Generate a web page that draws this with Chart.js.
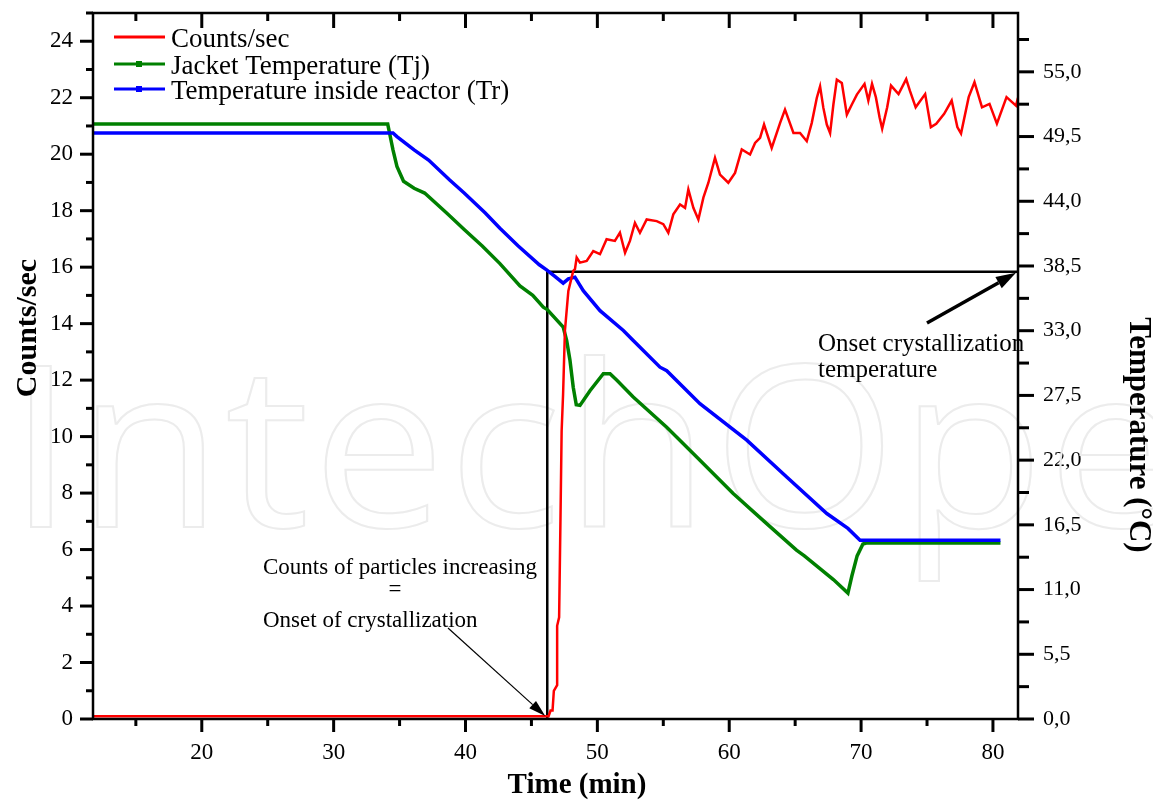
<!DOCTYPE html>
<html lang="en">
<head>
  <meta charset="UTF-8" />
  <title>Counts/sec and temperatures vs time</title>
  <style>
    html, body {
      margin: 0;
      padding: 0;
      background: #fff;
    }
    #grafico {
      display: block;
    }
  </style>
</head>
<body>
  <canvas id="grafico" width="1153" height="801"></canvas>

  <script src="https://cdn.jsdelivr.net/npm/chart.js"></script>
  <script>
    // --- data ---
    const countsTime = [11.75, 46.3, 46.45, 46.6, 46.7, 46.95, 46.95, 47.1, 47.2, 47.29, 47.4, 47.54, 47.8, 48.17,
      48.3, 48.43, 48.68, 49.19, 49.69, 50.2, 50.7, 51.33, 51.71, 52.1, 52.47, 52.85, 53.23, 53.74, 54.5,
      55.0, 55.38, 55.76, 56.27, 56.65, 56.9, 57.28, 57.66, 58.04, 58.42, 58.92, 59.3, 59.93, 60.44, 60.95,
      61.58, 61.96, 62.34, 62.64, 63.22, 63.86, 64.23, 64.87, 65.37, 65.88, 66.26, 66.64, 66.89, 67.14,
      67.4, 67.65, 67.9, 68.16, 68.54, 68.92, 69.3, 69.68, 70.26, 70.55, 70.83,
      71.12, 71.4, 71.6, 71.98, 72.27, 72.84, 73.42, 73.7, 74.14, 74.86, 75.29, 75.7, 76.3, 76.87, 77.3,
      77.58, 78.16, 78.6, 79.17, 79.74, 80.3, 81.03, 81.75, 81.9];
    const countsValues = [0.1, 0.1, 0.3, 0.3, 1.0, 1.2, 3.3, 3.6, 7.0, 10.2, 11.5, 13.75, 15.16, 15.87,
      15.93, 16.34, 16.16, 16.22, 16.57, 16.46, 16.99, 16.93, 17.22, 16.51, 16.93, 17.57, 17.22, 17.69, 17.63,
      17.52, 17.22, 17.87, 18.22, 18.1, 18.75, 18.1, 17.69, 18.46, 18.99, 19.87, 19.28, 18.99, 19.34, 20.17,
      19.99, 20.4, 20.58, 21.05, 20.22, 21.11, 21.58, 20.75, 20.75, 20.46, 21.11, 21.99, 22.4, 21.64,
      21.05, 20.75, 21.76, 22.64, 22.52, 21.4, 21.76, 22.11, 22.49, 21.9, 22.49,
      22.02, 21.31, 20.9, 21.66, 22.43, 22.13, 22.66, 22.25, 21.66, 22.13, 20.96, 21.08, 21.43, 21.9, 20.96,
      20.73, 22.02, 22.55, 21.66, 21.78, 21.08, 22.02, 21.72, 22.0];

    const jacketTime = [11.75, 34.1, 34.24, 34.5, 34.8, 35.3, 36.1, 36.9, 38.57, 39.9, 41.27, 42.61, 44.13,
      45.1, 45.9, 46.2, 47.41, 47.67, 47.92, 48.17, 48.4, 48.68, 49.44, 50.45, 50.96, 51.46, 52.72, 55.26,
      57.78, 60.3, 62.84, 65.1, 65.7, 67.9, 69.0, 69.3, 69.7, 70.14, 70.4, 80.57];
    const jacketTemp = [50.56, 50.56, 49.8, 48.36, 46.96, 45.7, 45.1, 44.7, 43.0, 41.6, 40.2, 38.7, 36.8,
      36.0, 35.0, 34.8, 33.3, 32.17, 30.5, 28.2, 26.7, 26.65, 27.9, 29.35, 29.35, 28.8, 27.36, 24.8,
      22.0, 19.16, 16.6, 14.35, 13.86, 11.85, 10.7, 12.15, 13.86, 14.87, 14.95, 14.95];

    const reactorTime = [11.75, 34.5, 34.8, 36.1, 37.2, 38.8, 39.9, 41.5, 42.61, 44.0, 45.6, 46.15, 46.8,
      47.41, 47.8, 48.3, 48.93, 50.2, 51.97, 52.72, 54.75, 55.26, 57.78, 61.33, 64.36, 67.4, 69.0, 69.92, 80.57];
    const reactorTemp = [49.8, 49.8, 49.5, 48.36, 47.5, 45.8, 44.7, 43.0, 41.7, 40.2, 38.6, 38.17, 37.6,
      37.04, 37.4, 37.55, 36.4, 34.7, 33.02, 32.17, 29.9, 29.6, 26.8, 23.7, 20.57, 17.46, 16.2, 15.2, 15.2];

    const onsetTime = 46.2;
    const onsetTemp = 38.0;

    const timeTicks = [20, 30, 40, 50, 60, 70, 80];
    const countTicks = [0, 2, 4, 6, 8, 10, 12, 14, 16, 18, 20, 22, 24];
    const tempTicks = [0, 5.5, 11, 16.5, 22, 27.5, 33, 38.5, 44, 49.5, 55];

    const SERIF = '"Liberation Serif", "Times New Roman", serif';

    const toPoints = (xs, ys) => xs.map((x, i) => ({ x: x, y: ys[i] }));

    function flecha(ctx, x1, y1, x2, y2, largo, ancho, grosor) {
      const ang = Math.atan2(y2 - y1, x2 - x1);
      const bx = x2 - largo * Math.cos(ang);
      const by = y2 - largo * Math.sin(ang);
      ctx.save();
      ctx.strokeStyle = '#000';
      ctx.fillStyle = '#000';
      ctx.lineWidth = grosor;
      ctx.beginPath();
      ctx.moveTo(x1, y1);
      ctx.lineTo(bx, by);
      ctx.stroke();
      ctx.beginPath();
      ctx.moveTo(x2, y2);
      ctx.lineTo(bx + ancho / 2 * Math.sin(ang), by - ancho / 2 * Math.cos(ang));
      ctx.lineTo(bx - ancho / 2 * Math.sin(ang), by + ancho / 2 * Math.cos(ang));
      ctx.closePath();
      ctx.fill();
      ctx.restore();
    }

    function marca(ctx, x1, y1, x2, y2) {
      ctx.beginPath();
      ctx.moveTo(x1, y1);
      ctx.lineTo(x2, y2);
      ctx.stroke();
    }

    // watermark behind the lines
    const fondo = {
      id: 'fondo',
      beforeDatasetsDraw(chart) {
        const ctx = chart.ctx;
        ctx.save();
        ctx.translate(8, 527);
        ctx.scale(1.05, 1);
        ctx.font = '225px "Open Sans", sans-serif';
        ctx.letterSpacing = '3px';
        ctx.strokeStyle = '#ececec';
        ctx.lineWidth = 2;
        ctx.textBaseline = 'alphabetic';
        ctx.strokeText('IntechOpen', 0, 0);
        ctx.restore();
      }
    };

    // frame, ticks, titles, legend, annotations
    const adornos = {
      id: 'adornos',
      afterDraw(chart) {
        const ctx = chart.ctx;
        const a = chart.chartArea;
        const sx = chart.scales.x, sy = chart.scales.y, sy2 = chart.scales.y2;

        ctx.save();
        ctx.strokeStyle = '#000';
        ctx.lineWidth = 2.5;
        ctx.strokeRect(a.left, a.top, a.right - a.left, a.bottom - a.top);

        ctx.lineWidth = 3;
        // x ticks (bottom outward, top inward)
        timeTicks.forEach(v => {
          const p = sx.getPixelForValue(v);
          marca(ctx, p, a.bottom, p, a.bottom + 13);
          marca(ctx, p, a.top, p, a.top + 15);
          const m = sx.getPixelForValue(v - 5);
          marca(ctx, m, a.bottom, m, a.bottom + 7);
          marca(ctx, m, a.top, m, a.top + 8);
        });
        // left ticks
        countTicks.forEach(v => {
          const p = sy.getPixelForValue(v);
          marca(ctx, a.left, p, a.left - 13, p);
          const m = sy.getPixelForValue(v + 1);
          marca(ctx, a.left, m, a.left - 7, m);
        });
        // right ticks
        tempTicks.forEach(v => {
          const p = sy2.getPixelForValue(v);
          marca(ctx, a.right, p, a.right + 16, p);
          const m = sy2.getPixelForValue(v + 2.75);
          marca(ctx, a.right, m, a.right + 11, m);
        });

        // axis titles
        ctx.fillStyle = '#000';
        ctx.textAlign = 'center';
        ctx.textBaseline = 'middle';
        ctx.font = 'bold 29px ' + SERIF;
        ctx.fillText('Time (min)', 577, 786);

        ctx.save();
        ctx.translate(28, 328);
        ctx.rotate(-Math.PI / 2);
        ctx.font = 'bold 30px ' + SERIF;
        ctx.fillText('Counts/sec', 0, 0);
        ctx.restore();

        ctx.save();
        ctx.translate(1138, 435);
        ctx.rotate(Math.PI / 2);
        ctx.font = 'bold 31px ' + SERIF;
        ctx.fillText('Temperature (\u00B0C)', 0, 0);
        ctx.restore();

        // legend
        const filas = [
          { texto: 'Counts/sec', color: '#ff0000', punto: false, y: 37 },
          { texto: 'Jacket Temperature (Tj)', color: '#008000', punto: true, y: 64 },
          { texto: 'Temperature inside reactor (Tr)', color: '#0000ff', punto: true, y: 89 }
        ];
        ctx.textAlign = 'left';
        ctx.textBaseline = 'alphabetic';
        ctx.font = '27px ' + SERIF;
        filas.forEach(f => {
          ctx.strokeStyle = f.color;
          ctx.lineWidth = 3;
          marca(ctx, 114, f.y, 165, f.y);
          if (f.punto) {
            ctx.fillStyle = f.color;
            ctx.fillRect(136, f.y - 3, 6, 6);
          }
          ctx.fillStyle = '#000';
          ctx.fillText(f.texto, 171, f.y + 10);
        });

        // annotations
        ctx.font = '23px ' + SERIF;
        ctx.fillText('Counts of particles increasing', 263, 574);
        ctx.fillText('Onset of crystallization', 263, 627);
        ctx.textAlign = 'center';
        ctx.fillText('=', 395, 596);

        ctx.textAlign = 'left';
        ctx.font = '25px ' + SERIF;
        ctx.fillText('Onset crystallization', 818, 351);
        ctx.fillText('temperature', 818, 377);

        flecha(ctx, 448, 628, sx.getPixelForValue(onsetTime) - 2, sy.getPixelForValue(0) - 3, 17, 10, 1.2);
        flecha(ctx, 927, 323, a.right - 2, sy2.getPixelForValue(onsetTemp) + 1, 20, 13, 3.5);

        ctx.restore();
      }
    };

    const ejeTicks = (size) => ({
      font: { family: SERIF, size: size },
      color: '#000',
      autoSkip: false,
      maxRotation: 0
    });

    // fixed axis box sizes, no extra label padding around the plot
    const fijar = (dim, px) => s => {
      s[dim] = px;
      s.paddingTop = 0;
      s.paddingBottom = 0;
      s.paddingLeft = 0;
      s.paddingRight = 0;
    };

    new Chart(document.getElementById('grafico'), {
      type: 'line',
      data: {
        datasets: [
          {
            label: 'Counts/sec',
            data: toPoints(countsTime, countsValues),
            borderColor: '#ff0000',
            borderWidth: 2.5,
            yAxisID: 'y',
            order: 1
          },
          {
            label: 'Temperature inside reactor (Tr)',
            data: toPoints(reactorTime, reactorTemp),
            borderColor: '#0000ff',
            borderWidth: 3.5,
            yAxisID: 'y2',
            order: 2
          },
          {
            label: 'Jacket Temperature (Tj)',
            data: toPoints(jacketTime, jacketTemp),
            borderColor: '#008000',
            borderWidth: 3.5,
            yAxisID: 'y2',
            order: 3
          },
          {
            label: 'onset',
            data: [{ x: onsetTime, y: 0 }, { x: onsetTime, y: onsetTemp }, { x: 81.9, y: onsetTemp }],
            borderColor: '#000',
            borderWidth: 2.5,
            yAxisID: 'y2',
            order: 4
          }
        ]
      },
      options: {
        responsive: false,
        animation: false,
        layout: { padding: { top: 13, left: 0, right: 0, bottom: 0 } },
        elements: {
          point: { radius: 0 },
          line: { tension: 0, fill: false }
        },
        plugins: {
          legend: { display: false },
          tooltip: { enabled: false }
        },
        scales: {
          x: {
            type: 'linear',
            min: 11.75,
            max: 81.9,
            grid: { display: false, drawTicks: false },
            border: { display: false },
            afterBuildTicks: s => { s.ticks = timeTicks.map(v => ({ value: v })); },
            afterFit: fijar('height', 82),
            ticks: Object.assign(ejeTicks(23), { padding: 20, callback: v => String(v) })
          },
          y: {
            type: 'linear',
            position: 'left',
            min: 0,
            max: 25,
            grid: { display: false, drawTicks: false },
            border: { display: false },
            afterBuildTicks: s => { s.ticks = countTicks.map(v => ({ value: v })); },
            afterFit: fijar('width', 93),
            ticks: Object.assign(ejeTicks(23), { padding: 20, callback: v => String(v) })
          },
          y2: {
            type: 'linear',
            position: 'right',
            min: 0,
            max: 60,
            grid: { display: false, drawTicks: false },
            border: { display: false },
            afterBuildTicks: s => { s.ticks = tempTicks.map(v => ({ value: v })); },
            afterFit: fijar('width', 135),
            ticks: Object.assign(ejeTicks(22), { padding: 25, callback: v => v.toFixed(1).replace('.', ',') })
          }
        }
      },
      plugins: [fondo, adornos]
    });
  </script>
</body>
</html>
